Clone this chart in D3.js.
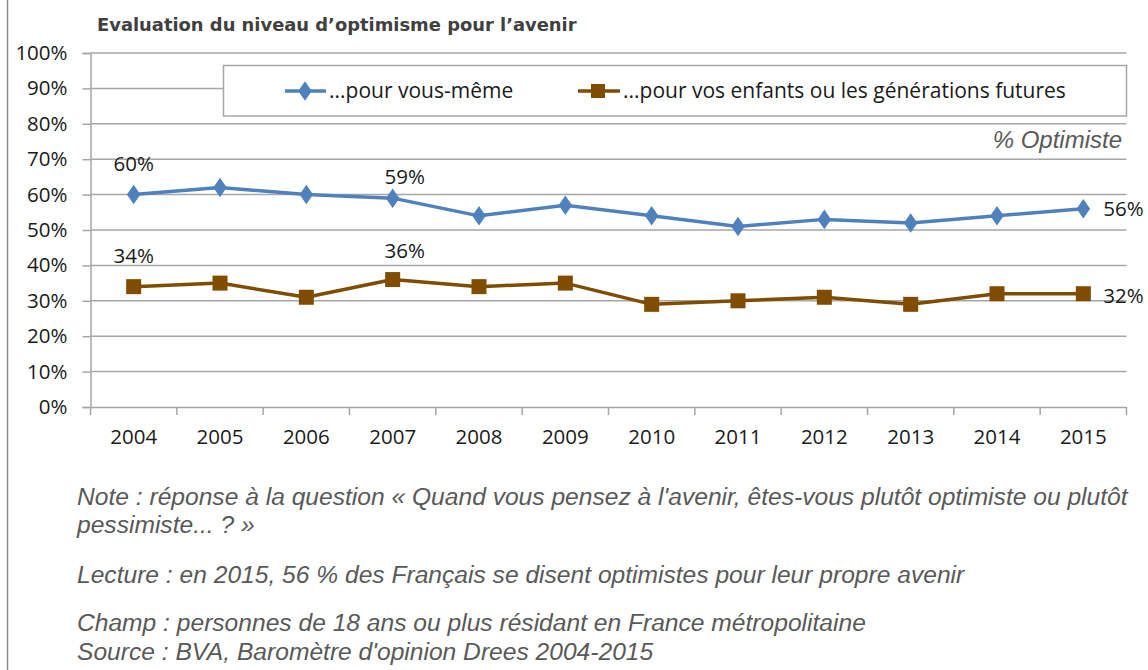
<!DOCTYPE html>
<html><head><meta charset="utf-8">
<script src="https://cdn.jsdelivr.net/npm/d3@7"></script>
<style>
html,body{margin:0;padding:0;background:#fff;}
svg{display:block;}
</style></head>
<body>
<svg id="chart" width="1148" height="670"></svg>
<script>
const years = ["2004","2005","2006","2007","2008","2009","2010","2011","2012","2013","2014","2015"];
const selfValues = [60,62,60,59,54,57,54,51,53,52,54,56];
const childValues = [34,35,31,36,34,35,29,30,31,29,32,32];
const yTicks = [0,10,20,30,40,50,60,70,80,90,100];
const seriesNames = ["...pour vous-même","...pour vos enfants ou les générations futures"];
const title = "Evaluation du niveau d\u2019optimisme pour l\u2019avenir";
const unitLabel = "% Optimiste";
const notes = [
  "Note : réponse à la question « Quand vous pensez à l'avenir, êtes-vous plutôt optimiste ou plutôt",
  "pessimiste... ? »",
  "Lecture : en 2015, 56 % des Français se disent optimistes pour leur propre avenir",
  "Champ : personnes de 18 ans ou plus résidant en France métropolitaine",
  "Source : BVA, Baromètre d'opinion Drees 2004-2015"
];
const selfLabeled = ["2004","2007","2015"];
const childLabeled = ["2004","2007","2015"];

(function(){
const svg = d3.select("#chart");
const blue = "#4F81BD", brown = "#7F4C00", grid = "#A6A6A6";
const chartFont = "'Open Sans', sans-serif";
const fs = 20.5;

const pLeft = 90.5, pRight = 1126.5, pTop = 53, pBottom = 407;
const x = d3.scaleBand().domain(years).range([pLeft, pRight]).paddingInner(0).paddingOuter(0);
const y = d3.scaleLinear().domain([0,100]).range([pBottom, pTop]);
const cx = d => x(d) + x.bandwidth()/2;

svg.append("line").attr("x1",7.5).attr("x2",7.5).attr("y1",0).attr("y2",670)
  .attr("stroke","#8c8c8c").attr("stroke-width",1.5);

svg.append("text").attr("x",97).attr("y",31).text(title)
  .attr("font-family","'DejaVu Sans', sans-serif").attr("font-weight","bold")
  .attr("font-size",17.9).attr("fill","#404040");

svg.append("g").selectAll("line").data(yTicks.filter(d=>d>0)).join("line")
  .attr("x1",pLeft).attr("x2",pRight).attr("y1",d=>y(d)).attr("y2",d=>y(d))
  .attr("stroke",grid).attr("stroke-width",1.5);

const yAxis = svg.append("g").attr("transform",`translate(${pLeft},0)`)
  .call(d3.axisLeft(y).tickValues(yTicks).tickFormat(d=>d+"%").tickSize(8).tickPadding(15));
yAxis.select(".domain").attr("stroke",grid).attr("stroke-width",1.5);
yAxis.selectAll(".tick line").attr("stroke",grid).attr("stroke-width",1.5);
yAxis.selectAll("text").attr("font-family",chartFont).attr("font-size",fs).attr("fill","#1a1a1a");

const xAxis = svg.append("g").attr("transform",`translate(0,${pBottom})`)
  .call(d3.axisBottom(x).tickSize(0).tickPadding(22));
xAxis.select(".domain").attr("stroke",grid).attr("stroke-width",1.5);
xAxis.selectAll("text").attr("font-family",chartFont).attr("font-size",fs).attr("fill","#1a1a1a");
const edges = years.map(d=>x(d)).concat([x(years[years.length-1])+x.bandwidth()]);
svg.append("g").selectAll("line").data(edges).join("line")
  .attr("x1",d=>d).attr("x2",d=>d).attr("y1",pBottom).attr("y2",pBottom+8)
  .attr("stroke",grid).attr("stroke-width",1.5);

svg.append("rect").attr("x",223.5).attr("y",65.5).attr("width",1126.5-223.5).attr("height",50.5)
  .attr("fill","#fff").attr("stroke","#a6a6a6").attr("stroke-width",1.5);
const diamond = d3.symbol().type(d3.symbolDiamond).size(110);
const lg = svg.append("g");
lg.append("line").attr("x1",285).attr("x2",326).attr("y1",91).attr("y2",91).attr("stroke",blue).attr("stroke-width",3.5);
lg.append("path").attr("d",diamond).attr("transform","translate(305,91) scale(1.2,1)").attr("fill",blue);
lg.append("text").attr("x",329).attr("y",98).text(seriesNames[0]).attr("font-family",chartFont).attr("font-size",21).attr("fill","#1a1a1a");
lg.append("line").attr("x1",578).attr("x2",620).attr("y1",91).attr("y2",91).attr("stroke",brown).attr("stroke-width",3.5);
lg.append("rect").attr("x",598-7).attr("y",91-7).attr("width",14).attr("height",14).attr("fill",brown);
lg.append("text").attr("x",623).attr("y",98).text(seriesNames[1]).attr("font-family",chartFont).attr("font-size",21).attr("fill","#1a1a1a");

svg.append("text").attr("x",1122).attr("y",148).attr("text-anchor","end").text(unitLabel)
  .attr("font-family","'Liberation Sans', Arial, sans-serif").attr("font-style","italic")
  .attr("font-size",24).attr("fill","#595959");

const line = d3.line().x((d,i)=>cx(years[i])).y(d=>y(d));
svg.append("path").datum(selfValues).attr("d",line).attr("fill","none").attr("stroke",blue).attr("stroke-width",3.5).attr("stroke-linejoin","round");
svg.append("path").datum(childValues).attr("d",line).attr("fill","none").attr("stroke",brown).attr("stroke-width",3.5).attr("stroke-linejoin","round");

svg.append("g").selectAll("path").data(selfValues).join("path")
  .attr("d",diamond).attr("transform",(d,i)=>`translate(${cx(years[i])},${y(d)}) scale(1.2,1)`).attr("fill",blue);
svg.append("g").selectAll("rect").data(childValues).join("rect")
  .attr("x",(d,i)=>cx(years[i])-7.5).attr("y",d=>y(d)-7.5).attr("width",15).attr("height",15).attr("fill",brown);

function label(yr, v, kind){
  const px = cx(yr), py = y(v);
  const t = svg.append("text").text(v+"%").attr("font-family",chartFont).attr("font-size",fs).attr("fill","#1a1a1a");
  if (yr === years[years.length-1]) {
    t.attr("x",px+20).attr("y",py+7 + (kind==="c"?2:0));
  } else if (yr === "2004") {
    t.attr("x",px).attr("y",py-24).attr("text-anchor","middle");
  } else {
    t.attr("x",px+12).attr("y",py-(kind==="s"?14:22)).attr("text-anchor","middle");
  }
}
selfLabeled.forEach(yr=>label(yr, selfValues[years.indexOf(yr)], "s"));
childLabeled.forEach(yr=>label(yr, childValues[years.indexOf(yr)], "c"));

const noteY = [505, 533, 583, 631, 660];
svg.append("g").selectAll("text").data(notes).join("text")
  .attr("x",77).attr("y",(d,i)=>noteY[i]).text(d=>d)
  .attr("font-family","'Liberation Sans', Arial, sans-serif").attr("font-style","italic")
  .attr("font-size",24.6).attr("fill","#595959");
})();
</script>
</body></html>
